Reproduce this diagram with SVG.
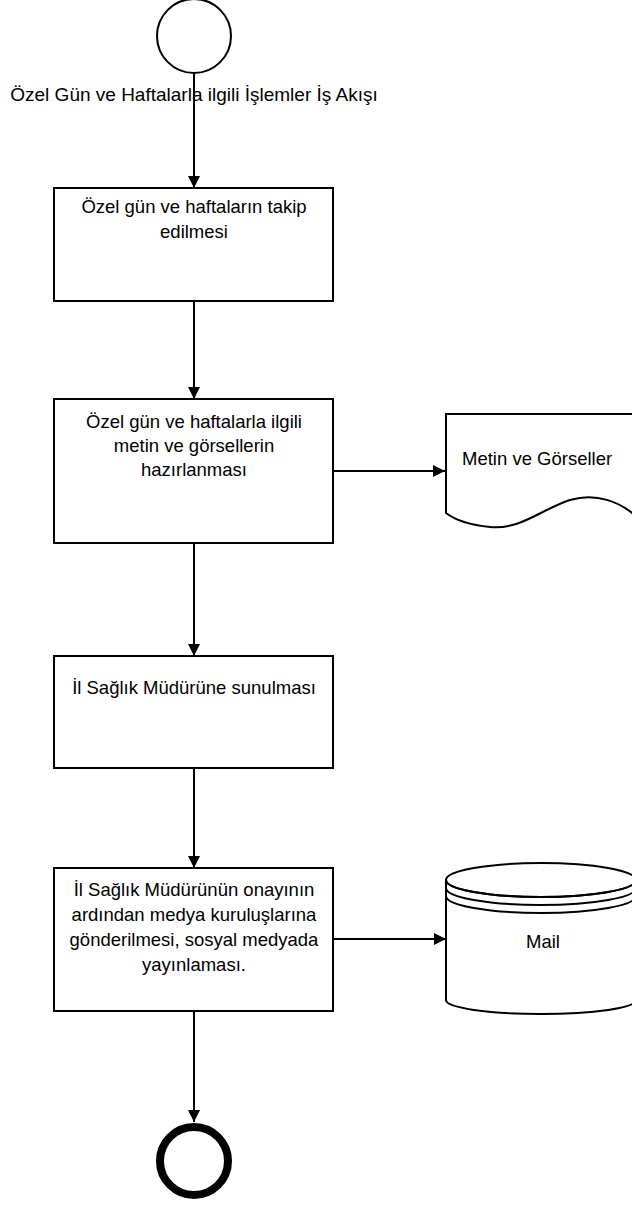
<svg xmlns="http://www.w3.org/2000/svg" width="632" height="1205" viewBox="0 0 632 1205">
<style>
  .shape { fill: #ffffff; stroke: #000000; stroke-width: 2; }
  .conn { fill: none; stroke: #000000; stroke-width: 2; }
  text { font-family: "Liberation Sans", Arial, sans-serif; font-size: 18.5px; fill: #000000; }
  .c { text-anchor: middle; }
</style>
<defs>
  <marker id="arrow" viewBox="0 0 12 12" refX="12" refY="6" markerWidth="12" markerHeight="12" markerUnits="userSpaceOnUse" orient="auto">
    <path d="M0,0 L12,6 L0,12 Z" fill="#000000"/>
  </marker>
</defs>
<rect width="632" height="1205" fill="#ffffff"/>

<g id="connectors">
  <line class="conn" x1="194" y1="73" x2="194" y2="188" marker-end="url(#arrow)"/>
  <line class="conn" x1="194" y1="301" x2="194" y2="399" marker-end="url(#arrow)"/>
  <line class="conn" x1="194" y1="543" x2="194" y2="656" marker-end="url(#arrow)"/>
  <line class="conn" x1="194" y1="768" x2="194" y2="868" marker-end="url(#arrow)"/>
  <line class="conn" x1="194" y1="1011" x2="194" y2="1122" marker-end="url(#arrow)"/>
  <line class="conn" x1="333" y1="471" x2="445" y2="471" marker-end="url(#arrow)"/>
  <line class="conn" x1="333" y1="939" x2="446" y2="939" marker-end="url(#arrow)"/>
</g>

<g id="start">
  <circle class="shape" cx="194" cy="36" r="37"/>
  <text class="c" x="194" y="101" style="font-size:19px">Özel Gün ve Haftalarla ilgili İşlemler İş Akışı</text>
</g>

<g id="task1">
  <rect class="shape" x="54" y="188" width="279" height="113"/>
  <text class="c" x="194" y="213">Özel gün ve haftaların takip</text>
  <text class="c" x="194" y="238">edilmesi</text>
</g>

<g id="task2">
  <rect class="shape" x="54" y="399" width="279" height="144"/>
  <text class="c" x="194" y="428">Özel gün ve haftalarla ilgili</text>
  <text class="c" x="194" y="452">metin ve görsellerin</text>
  <text class="c" x="194" y="476">hazırlanması</text>
</g>

<g id="document">
  <path class="shape" d="M446,414 L640,414 L640,520 C620,500 595,493 570,500 C540,510 520,530 490,527 C470,525 455,520 446,513 Z"/>
  <text x="462" y="465">Metin ve Görseller</text>
</g>

<g id="task3">
  <rect class="shape" x="54" y="656" width="279" height="112"/>
  <text class="c" x="194" y="694">İl Sağlık Müdürüne sunulması</text>
</g>

<g id="task4">
  <rect class="shape" x="54" y="868" width="279" height="143"/>
  <text class="c" x="194" y="896">İl Sağlık Müdürünün onayının</text>
  <text class="c" x="194" y="921">ardından medya kuruluşlarına</text>
  <text class="c" x="194" y="946">gönderilmesi, sosyal medyada</text>
  <text class="c" x="194" y="971">yayınlaması.</text>
</g>

<g id="mail">
  <path class="shape" d="M446,880 L446,1000 A95,14 0 0 0 636,1000 L636,880 Z"/>
  <ellipse class="shape" cx="541" cy="880" rx="95" ry="17"/>
  <path class="conn" d="M446,880 A95,17 0 0 0 636,880 M446,880 L446,888 A95,17 0 0 0 636,888 M446,888 L446,896 A95,17 0 0 0 636,896"/>
  <text class="c" x="543" y="948">Mail</text>
</g>

<g id="end">
  <circle cx="194" cy="1161" r="34" fill="#ffffff" stroke="#000000" stroke-width="8"/>
</g>
</svg>
